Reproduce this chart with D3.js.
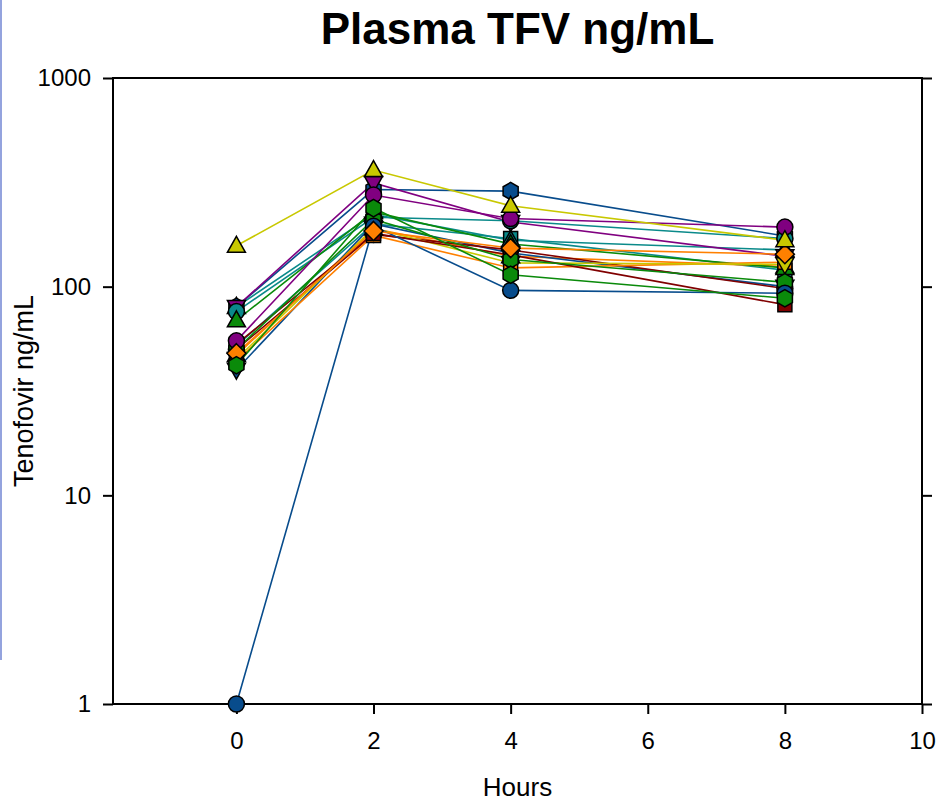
<!DOCTYPE html>
<html>
<head>
<meta charset="utf-8">
<script src="https://cdn.jsdelivr.net/npm/d3@7.9.0/dist/d3.min.js"></script>
<style>
  body { margin: 0; background: #fff; }
  svg { display: block; font-family: "Liberation Sans", Arial, sans-serif; }
</style>
</head>
<body>
<div id="chart"></div>
<script>
const hours = [0, 2, 4, 8];
const xTicks = [0, 2, 4, 6, 8, 10];
const yTicks = [1, 10, 100, 1000];

// one entry per subject: colour, symbol, and TFV at 0, 2, 4, 8 h
const subjectColors = ['#0a8a8a', '#ff8000', '#084c8c', '#800000', '#0a8a8a', '#084c8c', '#800080', '#0a8a8a', '#0a8a0a',
  '#ff8000', '#c8c800', '#800000', '#0a8a0a', '#800080', '#084c8c', '#ff8000', '#0a8a0a', '#c8c800'];
const subjectSymbols = ['square', 'triUp', 'triDown', 'circle', 'triUp', 'hex', 'triDown', 'circle', 'triUp',
  'square', 'triDown', 'square', 'hex', 'circle', 'circle', 'diamond', 'hex', 'triUp'];
const subjectValues = [
  [52, 200, 170, 120],
  [47, 190, 140, 125],
  [40, 200, 145, 100],
  [50, 178, 150, 98],
  [80, 222, 167, 150],
  [80, 292, 287, 175],
  [80, 314, 204, 140],
  [76, 215, 207, 170],
  [69, 228, 160, 123],
  [44, 176, 123, 131],
  [45, 190, 130, 128],
  [53, 180, 142, 82],
  [50, 210, 135, 105],
  [55, 275, 212, 193],
  [1, 195, 96, 93],
  [48, 185, 153, 143],
  [42, 238, 114, 88],
  [157, 362, 244, 167]
];

const width = 939, height = 805;
const area = { left: 113, right: 922, top: 78, bottom: 704 };

const svg = d3.select('#chart').append('svg')
  .attr('width', width).attr('height', height);

// slide edge stripe
svg.append('rect').attr('x', 0).attr('y', 0).attr('width', 2).attr('height', 660).attr('fill', '#94a3de');

const x = d3.scaleLinear().domain([-1.8, 10]).range([area.left, area.right]);
const y = d3.scaleLog().domain([1, 1000]).range([area.bottom, area.top]);

// frame
svg.append('rect')
  .attr('x', area.left).attr('y', area.top)
  .attr('width', area.right - area.left).attr('height', area.bottom - area.top)
  .attr('fill', 'none').attr('stroke', '#000').attr('stroke-width', 2);

const yAxis = svg.append('g').attr('transform', `translate(${area.left},0)`)
  .call(d3.axisLeft(y).tickValues(yTicks).tickFormat(d3.format('d')).tickSize(10).tickPadding(12));
const yAxisR = svg.append('g').attr('transform', `translate(${area.right},0)`)
  .call(d3.axisRight(y).tickValues(yTicks).tickFormat('').tickSize(10));
const xAxis = svg.append('g').attr('transform', `translate(0,${area.bottom})`)
  .call(d3.axisBottom(x).tickValues(xTicks).tickSize(10).tickPadding(18));

[yAxis, yAxisR, xAxis].forEach(g => {
  g.select('.domain').remove();
  g.selectAll('line').attr('stroke', '#000').attr('stroke-width', 2);
  g.selectAll('text').attr('font-size', 24).attr('fill', '#000')
    .attr('font-family', '"Liberation Sans", Arial, sans-serif');
});

const line = d3.line().x((d, i) => x(hours[i])).y(d => y(d));

svg.append('g').selectAll('path')
  .data(subjectValues)
  .join('path')
  .attr('d', d => line(d))
  .attr('fill', 'none')
  .attr('stroke', (d, i) => subjectColors[i])
  .attr('stroke-width', 1.6);

function symbolPath(type) {
  const p = d3.path();
  if (type === 'circle') { p.arc(0, 0, 8, 0, 2 * Math.PI); }
  else if (type === 'triUp') { p.moveTo(0, -9.5); p.lineTo(9, 6.5); p.lineTo(-9, 6.5); p.closePath(); }
  else if (type === 'triDown') { p.moveTo(0, 9.5); p.lineTo(9, -6.5); p.lineTo(-9, -6.5); p.closePath(); }
  else if (type === 'square') { p.rect(-7, -7, 14, 14); }
  else if (type === 'diamond') { p.moveTo(0, -9.5); p.lineTo(9.5, 0); p.lineTo(0, 9.5); p.lineTo(-9.5, 0); p.closePath(); }
  else if (type === 'hex') {
    for (let k = 0; k < 6; k++) {
      const a = -Math.PI / 2 + k * Math.PI / 3;
      const px = 8.7 * Math.cos(a), py = 8.7 * Math.sin(a);
      if (k === 0) p.moveTo(px, py); else p.lineTo(px, py);
    }
    p.closePath();
  }
  return p.toString();
}

const marks = svg.append('g');
subjectValues.forEach((vals, i) => {
  marks.append('g').selectAll('path')
    .data(vals)
    .join('path')
    .attr('transform', (d, j) => `translate(${x(hours[j])},${y(d)})`)
    .attr('d', symbolPath(subjectSymbols[i]))
    .attr('fill', subjectColors[i])
    .attr('stroke', '#000')
    .attr('stroke-width', 1.5);
});

svg.append('text')
  .attr('x', (area.left + area.right) / 2).attr('y', 44)
  .attr('text-anchor', 'middle').attr('font-size', 44).attr('font-weight', 'bold')
  .text('Plasma TFV ng/mL');

svg.append('text')
  .attr('transform', `translate(33,${(area.top + area.bottom) / 2}) rotate(-90)`)
  .attr('text-anchor', 'middle').attr('font-size', 27)
  .text('Tenofovir ng/mL');

svg.append('text')
  .attr('x', (area.left + area.right) / 2).attr('y', 796)
  .attr('text-anchor', 'middle').attr('font-size', 26)
  .text('Hours');
</script>
</body>
</html>
